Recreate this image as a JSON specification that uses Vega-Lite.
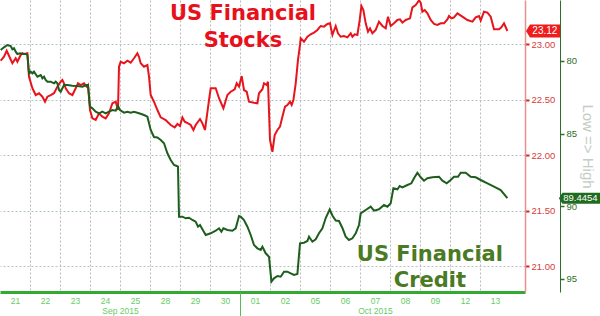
{
"$schema": "https://vega.github.io/schema/vega-lite/v6.json",
"width": 525,
"height": 292,
"autosize": {"type": "none"},
"padding": {"left": 0, "top": 0, "right": 75, "bottom": 24},
"background": "white",
"config": {"view": {"stroke": null}, "axis": {"labelFont": "Liberation Sans", "titleFont": "Liberation Sans"}},
"datasets": {
"stocks": [
{"t":0.023,"v":22.852},{"t":0.133,"v":22.888},{"t":0.223,"v":22.942},{"t":0.413,"v":22.829},{"t":0.523,"v":22.874},{"t":0.58,"v":22.843},{"t":0.69,"v":22.904},{"t":0.747,"v":22.919},{"t":0.8,"v":22.913},{"t":0.913,"v":22.919},
{"t":0.967,"v":22.708},{"t":1.08,"v":22.604},{"t":1.19,"v":22.543},{"t":1.3,"v":22.559},{"t":1.413,"v":22.528},{"t":1.5,"v":22.483},{"t":1.58,"v":22.528},{"t":1.69,"v":22.543},{"t":1.8,"v":22.559},{"t":1.913,"v":22.618},
{"t":2.023,"v":22.663},{"t":2.08,"v":22.678},{"t":2.133,"v":22.649},{"t":2.19,"v":22.604},{"t":2.3,"v":22.559},{"t":2.413,"v":22.543},{"t":2.523,"v":22.604},{"t":2.6,"v":22.649},{"t":2.69,"v":22.633},{"t":2.8,"v":22.649},
{"t":2.89,"v":22.618},{"t":2.933,"v":22.633},{"t":3.0,"v":22.408},{"t":3.08,"v":22.333},{"t":3.19,"v":22.318},{"t":3.3,"v":22.378},{"t":3.413,"v":22.348},{"t":3.523,"v":22.333},{"t":3.633,"v":22.378},{"t":3.747,"v":22.469},
{"t":3.857,"v":22.483},{"t":3.933,"v":22.408},{"t":3.967,"v":22.798},{"t":4.023,"v":22.843},{"t":4.133,"v":22.829},{"t":4.247,"v":22.852},{"t":4.357,"v":22.834},{"t":4.467,"v":22.874},{"t":4.58,"v":22.919},{"t":4.633,"v":22.888},
{"t":4.69,"v":22.829},{"t":4.8,"v":22.798},{"t":4.913,"v":22.813},{"t":4.967,"v":22.708},{"t":5.023,"v":22.543},{"t":5.133,"v":22.483},{"t":5.247,"v":22.408},{"t":5.357,"v":22.342},{"t":5.523,"v":22.318},{"t":5.69,"v":22.273},
{"t":5.823,"v":22.252},{"t":5.913,"v":22.282},{"t":6.0,"v":22.264},{"t":6.08,"v":22.342},{"t":6.157,"v":22.303},{"t":6.267,"v":22.288},{"t":6.357,"v":22.273},{"t":6.447,"v":22.228},{"t":6.523,"v":22.273},{"t":6.667,"v":22.327},
{"t":6.747,"v":22.288},{"t":6.833,"v":22.228},{"t":6.967,"v":22.498},{"t":7.023,"v":22.604},{"t":7.19,"v":22.604},{"t":7.3,"v":22.514},{"t":7.447,"v":22.423},{"t":7.58,"v":22.543},{"t":7.69,"v":22.573},{"t":7.823,"v":22.595},
{"t":7.89,"v":22.649},{"t":7.967,"v":22.618},{"t":8.057,"v":22.714},{"t":8.133,"v":22.588},{"t":8.223,"v":22.573},{"t":8.3,"v":22.483},{"t":8.467,"v":22.474},{"t":8.58,"v":22.469},{"t":8.633,"v":22.559},{"t":8.747,"v":22.595},
{"t":8.8,"v":22.649},{"t":8.89,"v":22.633},{"t":8.933,"v":22.663},{"t":9.0,"v":22.138},{"t":9.08,"v":22.032},{"t":9.157,"v":22.183},{"t":9.247,"v":22.228},{"t":9.333,"v":22.258},{"t":9.413,"v":22.348},{"t":9.5,"v":22.438},
{"t":9.58,"v":22.453},{"t":9.667,"v":22.483},{"t":9.723,"v":22.453},{"t":9.78,"v":22.498},{"t":9.857,"v":22.649},{"t":9.933,"v":22.859},{"t":10.0,"v":22.994},{"t":10.023,"v":23.054},{"t":10.133,"v":23.023},{"t":10.247,"v":23.068},
{"t":10.357,"v":23.09},{"t":10.467,"v":23.105},{"t":10.58,"v":23.129},{"t":10.69,"v":23.165},{"t":10.8,"v":23.159},{"t":10.913,"v":23.183},{"t":11.0,"v":23.189},{"t":11.08,"v":23.084},{"t":11.19,"v":23.165},{"t":11.267,"v":23.099},
{"t":11.357,"v":23.068},{"t":11.467,"v":23.075},{"t":11.58,"v":23.063},{"t":11.69,"v":23.099},{"t":11.747,"v":23.068},{"t":11.823,"v":23.09},{"t":11.913,"v":23.084},{"t":11.99,"v":23.219},{"t":12.047,"v":23.345},{"t":12.113,"v":23.309},
{"t":12.19,"v":23.189},{"t":12.267,"v":23.114},{"t":12.333,"v":23.144},{"t":12.413,"v":23.099},{"t":12.523,"v":23.129},{"t":12.633,"v":23.204},{"t":12.747,"v":23.165},{"t":12.857,"v":23.144},{"t":12.933,"v":23.249},{"t":13.023,"v":23.165},
{"t":13.133,"v":23.189},{"t":13.247,"v":23.219},{"t":13.333,"v":23.225},{"t":13.413,"v":23.195},{"t":13.523,"v":23.219},{"t":13.667,"v":23.234},{"t":13.747,"v":23.333},{"t":13.857,"v":23.354},{"t":13.967,"v":23.395},{"t":14.023,"v":23.375},
{"t":14.08,"v":23.294},{"t":14.157,"v":23.309},{"t":14.247,"v":23.279},{"t":14.357,"v":23.219},{"t":14.467,"v":23.183},{"t":14.58,"v":23.174},{"t":14.69,"v":23.189},{"t":14.8,"v":23.189},{"t":14.913,"v":23.225},{"t":14.967,"v":23.255},
{"t":15.047,"v":23.234},{"t":15.133,"v":23.243},{"t":15.247,"v":23.279},{"t":15.413,"v":23.249},{"t":15.58,"v":23.219},{"t":15.747,"v":23.204},{"t":15.857,"v":23.243},{"t":15.967,"v":23.255},{"t":16.023,"v":23.213},{"t":16.133,"v":23.294},
{"t":16.247,"v":23.285},{"t":16.357,"v":23.249},{"t":16.467,"v":23.135},{"t":16.633,"v":23.135},{"t":16.713,"v":23.153},{"t":16.8,"v":23.189},{"t":16.913,"v":23.12}
],
"credit": [
{"t":0.023,"v":79.243},{"t":0.133,"v":79.057},{"t":0.247,"v":78.899},{"t":0.357,"v":78.968},{"t":0.413,"v":79.195},{"t":0.467,"v":79.126},{"t":0.523,"v":79.36},{"t":0.58,"v":79.518},{"t":0.667,"v":79.47},{"t":0.747,"v":79.518},
{"t":0.857,"v":79.518},{"t":0.913,"v":79.587},{"t":0.967,"v":80.847},{"t":1.023,"v":80.736},{"t":1.08,"v":80.847},{"t":1.133,"v":80.736},{"t":1.247,"v":81.081},{"t":1.357,"v":80.964},{"t":1.413,"v":81.191},{"t":1.467,"v":81.081},
{"t":1.523,"v":81.308},{"t":1.58,"v":81.425},{"t":1.69,"v":81.425},{"t":1.8,"v":81.535},{"t":1.857,"v":81.425},{"t":1.913,"v":81.535},{"t":1.967,"v":81.996},{"t":2.023,"v":82.113},{"t":2.133,"v":81.652},{"t":2.247,"v":81.652},
{"t":2.413,"v":81.7},{"t":2.58,"v":81.721},{"t":2.747,"v":81.769},{"t":2.89,"v":81.652},{"t":2.933,"v":81.652},{"t":3.0,"v":83.145},{"t":3.08,"v":83.255},{"t":3.19,"v":83.489},{"t":3.3,"v":83.599},{"t":3.413,"v":83.489},
{"t":3.523,"v":83.599},{"t":3.633,"v":83.489},{"t":3.747,"v":83.372},{"t":3.857,"v":83.42},{"t":3.933,"v":83.097},{"t":4.0,"v":83.372},{"t":4.133,"v":83.558},{"t":4.247,"v":83.489},{"t":4.357,"v":83.558},{"t":4.467,"v":83.489},
{"t":4.633,"v":83.599},{"t":4.8,"v":83.716},{"t":4.913,"v":83.833},{"t":5.023,"v":84.749},{"t":5.133,"v":85.231},{"t":5.247,"v":85.265},{"t":5.357,"v":85.437},{"t":5.467,"v":85.664},{"t":5.58,"v":86.352},{"t":5.69,"v":86.813},
{"t":5.8,"v":87.158},{"t":5.89,"v":87.226},{"t":5.933,"v":87.275},{"t":5.967,"v":90.716},{"t":6.08,"v":90.716},{"t":6.19,"v":90.826},{"t":6.3,"v":90.785},{"t":6.413,"v":90.943},{"t":6.523,"v":91.06},{"t":6.6,"v":91.404},
{"t":6.667,"v":91.287},{"t":6.747,"v":91.583},{"t":6.857,"v":91.975},{"t":7.023,"v":91.858},{"t":7.19,"v":91.679},{"t":7.3,"v":91.514},{"t":7.38,"v":91.748},{"t":7.447,"v":91.514},{"t":7.58,"v":91.631},{"t":7.747,"v":91.679},
{"t":7.857,"v":91.514},{"t":7.967,"v":90.668},{"t":8.023,"v":90.716},{"t":8.133,"v":90.943},{"t":8.247,"v":91.404},{"t":8.357,"v":91.975},{"t":8.467,"v":92.663},{"t":8.58,"v":92.891},{"t":8.69,"v":93.008},{"t":8.747,"v":92.78},
{"t":8.857,"v":93.235},{"t":8.967,"v":93.469},{"t":9.047,"v":95.189},{"t":9.133,"v":94.955},{"t":9.247,"v":94.797},{"t":9.357,"v":94.845},{"t":9.467,"v":94.501},{"t":9.58,"v":94.501},{"t":9.69,"v":94.611},{"t":9.8,"v":94.728},
{"t":9.913,"v":94.659},{"t":10.0,"v":92.547},{"t":10.133,"v":92.505},{"t":10.247,"v":92.388},{"t":10.3,"v":92.092},{"t":10.413,"v":92.436},{"t":10.523,"v":92.271},{"t":10.633,"v":91.858},{"t":10.747,"v":91.514},{"t":10.857,"v":90.805},
{"t":10.99,"v":90.22},{"t":11.08,"v":90.633},{"t":11.19,"v":90.977},{"t":11.3,"v":91.012},{"t":11.413,"v":91.493},{"t":11.523,"v":92.092},{"t":11.633,"v":92.319},{"t":11.747,"v":92.202},{"t":11.857,"v":91.858},{"t":11.967,"v":91.287},
{"t":12.023,"v":90.482},{"t":12.19,"v":90.255},{"t":12.357,"v":90.027},{"t":12.467,"v":90.303},{"t":12.633,"v":90.206},{"t":12.8,"v":89.911},{"t":12.913,"v":90.027},{"t":13.023,"v":89.794},{"t":13.113,"v":88.761},{"t":13.247,"v":88.83},
{"t":13.323,"v":88.603},{"t":13.413,"v":88.692},{"t":13.58,"v":88.534},{"t":13.713,"v":88.417},{"t":13.8,"v":88.073},{"t":13.913,"v":87.688},{"t":14.023,"v":88.004},{"t":14.133,"v":88.238},{"t":14.247,"v":88.073},{"t":14.413,"v":88.004},
{"t":14.633,"v":87.963},{"t":14.747,"v":88.238},{"t":14.89,"v":88.417},{"t":15.023,"v":88.19},{"t":15.133,"v":87.963},{"t":15.267,"v":87.963},{"t":15.357,"v":87.688},{"t":15.523,"v":87.688},{"t":15.69,"v":87.963},{"t":15.857,"v":88.004},
{"t":16.023,"v":88.19},{"t":16.247,"v":88.417},{"t":16.467,"v":88.651},{"t":16.69,"v":88.878},{"t":16.913,"v":89.4454}
],
"stocksLast": [{"t":16.913,"v":23.12}],
"creditLast": [{"t":16.913,"v":89.4454}]
},
"layer": [
{
"encoding": {
  "x": {"field": "t", "type": "quantitative", "scale": {"domain": [0, 17.5], "nice": false, "zero": false},
   "axis": {"orient": "bottom", "values": [0,1,2,3,4,5,6,7,8,9,10,11,12,13,14,15,16],
    "labelExpr": "['21','22','23','24','25','28','29','30','01','02','05','06','07','08','09','12','13'][round(datum.value)]",
    "labelOffset": 15, "labelColor": "#66cc66", "labelFontSize": 8.5, "labelPadding": 4, "ticks": false,
    "labelFlush": false, "labelOverlap": false, "labelBound": false,
    "domainColor": "#33aa33", "domainWidth": 3, "grid": true, "gridColor": "#bbbbbb", "gridDash": [2, 2],
    "gridOpacity": {"condition": {"test": "datum.value == 0", "value": 0}, "value": 1}, "title": null}},
  "y": {"field": "v", "type": "quantitative", "scale": {"domain": [20.7685, 23.3991], "nice": false, "zero": false},
   "axis": {"orient": "right", "values": [21, 21.5, 22, 22.5, 23], "format": ".2f",
    "domainColor": "#e89090", "domainWidth": 1.5, "tickColor": "#dd2222", "tickSize": 4, "tickWidth": 2,
    "labelColor": "#d43c3c", "labelFontSize": 9.5, "labelPadding": 2,
    "grid": true, "gridColor": "#b0c4c4", "gridDash": [2, 2], "title": null}}
},
"layer": [
{"data": {"name": "stocks"},
 "mark": {"type": "line", "color": "#e8141c", "strokeWidth": 2, "interpolate": "linear"}},
{"data": {"name": "stocksLast"},
 "mark": {"type": "point", "shape": "M1.86,0L2.26,-0.65L5.26,-0.65L5.26,0.65L2.26,0.65Z", "size": 400, "filled": true, "fill": "#ee1c1c", "strokeWidth": 0, "opacity": 1}},
{"data": {"name": "stocksLast"},
 "mark": {"type": "text", "dx": 37.5, "color": "white", "font": "Liberation Sans", "fontSize": 10, "align": "center", "baseline": "middle"},
 "encoding": {"text": {"field": "v", "type": "quantitative", "format": ".2f"}}},
{"data": {"values": [{"t": 8.1, "v": 23.219}]},
 "mark": {"type": "text", "text": ["US Financial", "Stocks"], "lineHeight": 27, "font": "DejaVu Sans", "fontWeight": "bold", "fontSize": 21, "color": "#e8101a", "align": "center", "baseline": "alphabetic"}}
]
},
{
"encoding": {
  "x": {"field": "t", "type": "quantitative", "scale": {"domain": [0, 17.5], "nice": false, "zero": false},
   "axis": {"orient": "bottom", "values": [4, 8, 12.5],
    "labelExpr": "datum.value == 4 ? 'Sep 2015' : (datum.value == 12.5 ? 'Oct 2015' : '')",
    "labelColor": "#66cc66", "labelFontSize": 8.5, "labelPadding": -9.5, "labelFlush": false, "labelOverlap": false, "labelBound": false,
    "tickSize": 24, "tickColor": "#55bb55", "tickWidth": 1,
    "tickOpacity": {"condition": {"test": "datum.value == 8", "value": 1}, "value": 0},
    "domain": false, "grid": false, "title": null}},
  "y": {"field": "v", "type": "quantitative", "scale": {"domain": [75.802, 95.898], "nice": false, "zero": false, "reverse": true},
   "axis": {"orient": "right", "offset": 35, "values": [80, 85, 90, 95],
    "domainColor": "#2d6e2d", "domainWidth": 1, "tickColor": "#2d6e2d", "tickSize": 4, "tickWidth": 1.5,
    "labelColor": "#2d6e2d", "labelFontSize": 9.5, "labelPadding": 2, "grid": false,
    "title": "Low => High", "titleColor": "#c4ccc4", "titleFontSize": 15, "titleFontWeight": "normal", "titlePadding": 3}}
},
"layer": [
{"data": {"name": "credit"},
 "mark": {"type": "line", "color": "#1d5e1d", "strokeWidth": 2, "interpolate": "linear"}},
{"data": {"name": "creditLast"},
 "mark": {"type": "point", "shape": "M5.15,0L5.5,-0.55L9.4,-0.55L9.4,0.55L5.5,0.55Z", "size": 400, "filled": true, "fill": "#1f6b1f", "strokeWidth": 0, "opacity": 1}},
{"data": {"name": "creditLast"},
 "mark": {"type": "text", "dx": 73, "color": "white", "font": "Liberation Sans", "fontSize": 9.5, "align": "center", "baseline": "middle"},
 "encoding": {"text": {"field": "v", "type": "quantitative", "format": ".4f"}}},
{"data": {"values": [{"t": 14.33, "v": 93.765}]},
 "mark": {"type": "text", "text": ["US Financial", "Credit"], "lineHeight": 26, "font": "DejaVu Sans", "fontWeight": "bold", "fontSize": 21, "color": "#4a7a22", "align": "center", "baseline": "alphabetic"}}
]
}
],
"resolve": {"scale": {"y": "independent"}, "axis": {"x": "independent"}}
}
